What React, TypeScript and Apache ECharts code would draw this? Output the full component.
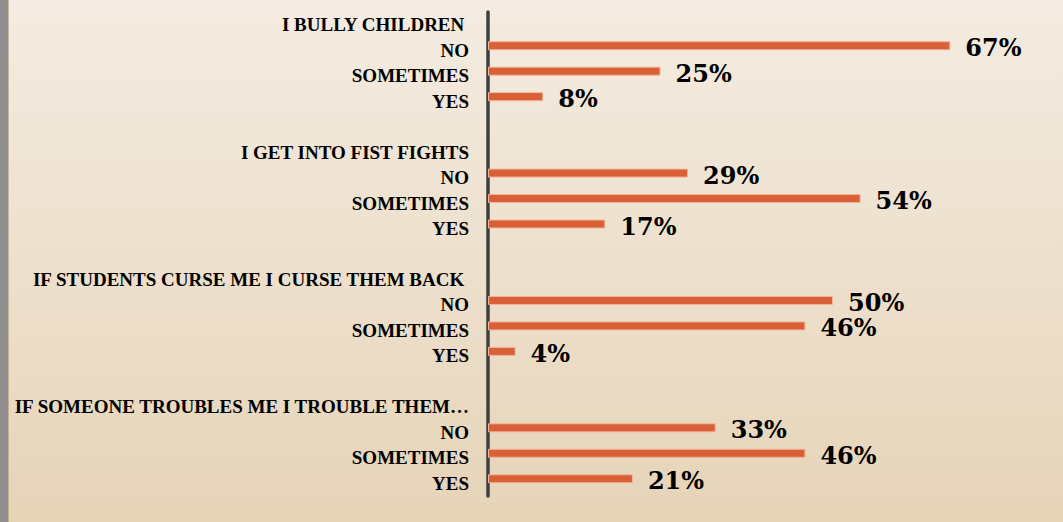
import React, { useEffect, useRef } from "react";
import * as echarts from "echarts";

const categories: string[] = [
  "I BULLY CHILDREN ", "NO", "SOMETIMES", "YES", "",
  "I GET INTO FIST FIGHTS", "NO", "SOMETIMES", "YES", "",
  "IF STUDENTS CURSE ME I CURSE THEM BACK ", "NO", "SOMETIMES", "YES", "",
  "IF SOMEONE TROUBLES ME I TROUBLE THEM…", "NO", "SOMETIMES", "YES",
];

const values: (number | null)[] = [
  null, 67, 25, 8, null,
  null, 29, 54, 17, null,
  null, 50, 46, 4, null,
  null, 33, 46, 21,
];

const xMin = 0;
const xMax = 80;

export default function App() {
  const ref = useRef<HTMLDivElement>(null);
  useEffect(() => {
    if (!ref.current) return;
    const chart = echarts.init(ref.current, undefined, { renderer: "svg" });
    chart.setOption({
      animation: false,
      backgroundColor: {
        type: "linear", x: 0, y: 0, x2: 0, y2: 1,
        colorStops: [
          { offset: 0, color: "#F4ECE2" },
          { offset: 1, color: "#E6D4B8" },
        ],
      },
      graphic: [
        { type: "rect", left: 0, top: 0, shape: { width: 7, height: 522 }, style: { fill: "#909090" }, silent: true },
        { type: "rect", left: 7, top: 0, shape: { width: 1.5, height: 522 }, style: { fill: "#A48A62" }, silent: true },
      ],
      grid: { left: 488, right: 23, top: 12, bottom: 26 },
      xAxis: {
        type: "value", min: xMin, max: xMax, show: false,
        splitLine: { show: false },
      },
      yAxis: {
        type: "category",
        inverse: true,
        data: categories,
        axisLine: { show: true, lineStyle: { color: "#3F3F3F", width: 3.5 } },
        axisTick: { show: false },
        axisLabel: {
          margin: 19,
          interval: 0,
          color: "#000",
          fontFamily: "Liberation Serif",
          fontWeight: "bold",
          fontSize: 19,
        },
      },
      series: [
        {
          type: "bar",
          data: values,
          barWidth: 9,
          barGap: "0%",
          itemStyle: { color: "#D95F36", borderColor: "#F2B49A", borderWidth: 1 },
          label: {
            show: true,
            position: "right",
            distance: 15,
            offset: [0, 2],
            formatter: "{c}%",
            color: "#000",
            fontFamily: "DejaVu Serif",
            fontWeight: "bold",
            fontSize: 24,
          },
        },
        {
          type: "bar",
          data: values.map(() => null),
          barWidth: 9,
          silent: true,
        },
      ],
    });
    return () => chart.dispose();
  }, []);
  return <div ref={ref} style={{ position: "fixed", left: 0, top: 0, width: 1063, height: 522 }} />;
}
